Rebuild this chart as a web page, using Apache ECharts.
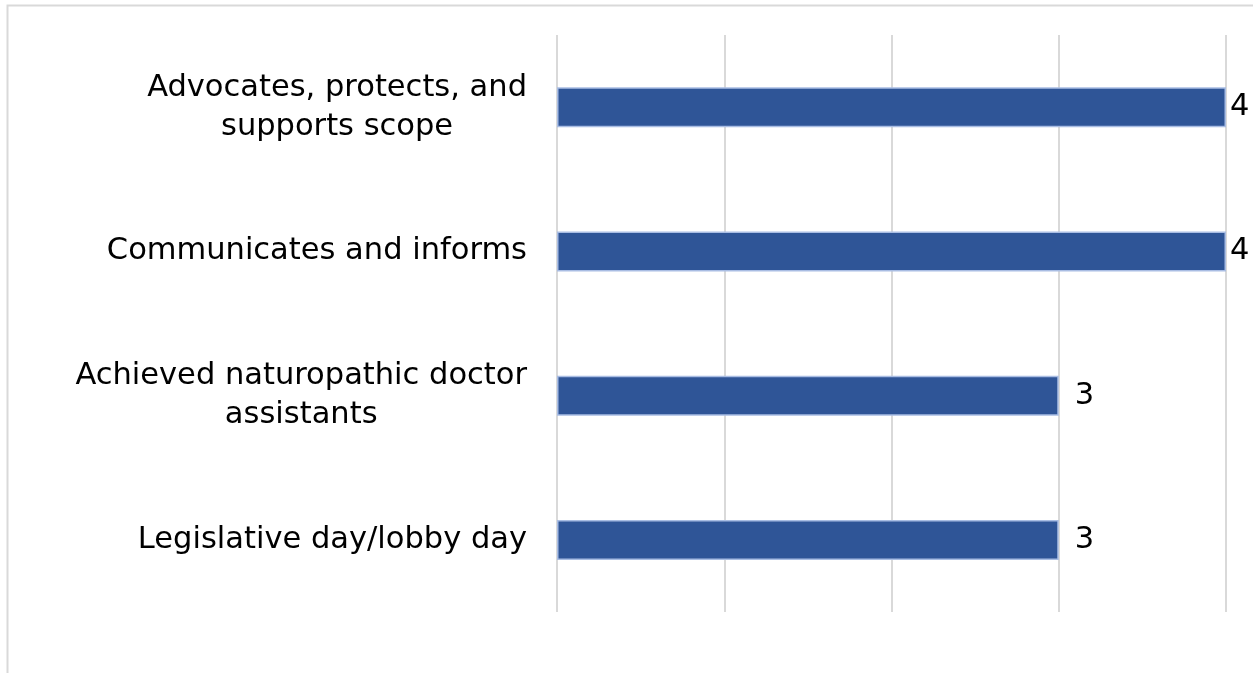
<!DOCTYPE html>
<html><head><meta charset="utf-8">
<script src="https://cdn.jsdelivr.net/npm/echarts@6/dist/echarts.min.js"></script>
<style>html,body{margin:0;padding:0;background:#fff}#c{width:1253px;height:673px}</style>
</head><body><div id="c"></div>
<script>
const categories = ["Legislative day/lobby day", "Achieved naturopathic doctor\nassistants", "Communicates and informs", "Advocates, protects, and\nsupports scope"];
const values = [3, 3, 4, 4];
const xTicks = [0, 1, 2, 3, 4];

const FONT = 'DejaVu Sans';
const FSIZE = 30.5;
const ctx = document.createElement('canvas').getContext('2d');
ctx.font = FSIZE + 'px "' + FONT + '"';
const catData = categories.map(c => {
  const lines = c.split('\n');
  if (lines.length < 2) return c;
  const w = Math.max(...lines.map(l => ctx.measureText(l).width));
  return {value: c, textStyle: {align: 'center', padding: [0, w, 0, 0]}};
});
const maxVal = xTicks[xTicks.length - 1];
const barData = values.map(v => ({value: v, label: {distance: v >= maxVal ? 4 : 16}}));

const chart = echarts.init(document.getElementById('c'));
chart.setOption({
  animation: false,
  graphic: [{type:'rect', shape:{x:7.5,y:5.5,width:1260,height:700}, style:{fill:'none', stroke:'#d9d9d9', lineWidth:2}, silent:true}],
  grid: {left: 557, right: 1253-1226, top: 35, bottom: 673-612, containLabel: false},
  xAxis: {type:'value', min: xTicks[0], max: maxVal, interval: 1,
    axisLabel:{show:false}, axisLine:{show:false}, axisTick:{show:false},
    splitLine:{show:true, lineStyle:{color:'#d9d9d9', width:2}}},
  yAxis: {type:'category', data: catData, axisLine:{show:false}, axisTick:{show:false},
    axisLabel:{color:'#000', fontFamily: FONT, fontSize: FSIZE, lineHeight: 39, margin: 30, align:'right'}},
  series: [{type:'bar', data: barData, barWidth: 40,
    itemStyle:{color:'#2F5597', borderColor:'#a9bde3', borderWidth:1.5},
    label:{show:true, position:'right', color:'#000', fontFamily: FONT, fontSize: FSIZE}}]
});
</script></body></html>
